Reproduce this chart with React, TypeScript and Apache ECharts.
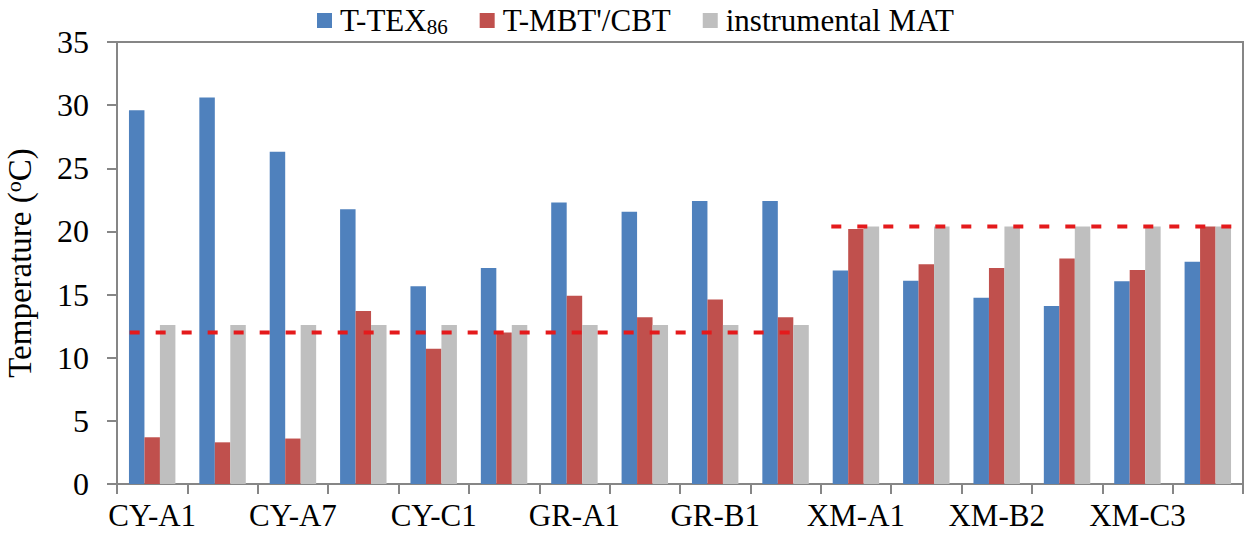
import React, { useEffect, useRef } from "react";
import * as echarts from "echarts";

const categories = [
  "CY-A1", "CY-A4", "CY-A7", "CY-B1", "CY-C1", "CY-C2", "GR-A1", "GR-A2",
  "GR-B1", "GR-B2", "XM-A1", "XM-A2", "XM-B2", "XM-B3", "XM-C3", "XM-C4",
];
const texValues = [29.6, 30.6, 26.3, 21.75, 15.65, 17.1, 22.3, 21.55, 22.4, 22.4, 16.9, 16.1, 14.75, 14.1, 16.05, 17.6];
const mbtValues = [3.7, 3.3, 3.6, 13.7, 10.7, 12.0, 14.9, 13.2, 14.6, 13.2, 20.2, 17.4, 17.1, 17.85, 16.95, 20.4];
const matValues = [12.6, 12.6, 12.6, 12.6, 12.6, 12.6, 12.6, 12.6, 12.6, 12.6, 20.4, 20.4, 20.4, 20.4, 20.4, 20.4];
const yTicks = [0, 5, 10, 15, 20, 25, 30, 35];
// reference (mean) lines: start/end in category units, value in °C
const refLineLow = [0.18, 9.7, 12.0];
const refLineHigh = [10.15, 15.9, 20.4];

const FONT = '"Liberation Serif", "Times New Roman", serif';
const AXIS_COLOR = "#868686";

export default function App() {
  const ref = useRef<HTMLDivElement>(null);
  useEffect(() => {
    const chart = echarts.init(ref.current!, null, { renderer: "svg" });
    chart.setOption({
      animation: false,
      textStyle: { fontFamily: FONT },
      legend: {
        left: 312,
        top: 0,
        itemWidth: 15,
        itemHeight: 15,
        itemGap: 32,
        icon: "rect",
        data: ["T-TEX86", "T-MBT'/CBT", "instrumental MAT"],
        formatter: (name: string) => (name === "T-TEX86" ? "T-TEX{sub|86}" : name),
        textStyle: {
          fontFamily: FONT,
          fontSize: 31,
          color: "#000",
          padding: [0, 0, 0, 3],
          rich: {
            sub: { fontFamily: FONT, fontSize: 21, color: "#000", padding: [12, 0, 0, 0] },
          },
        },
      },
      grid: {
        left: 117,
        right: 2,
        top: 42,
        bottom: 49,
        show: true,
        borderColor: AXIS_COLOR,
        borderWidth: 2,
        containLabel: false,
        outerBoundsMode: "none",
      },
      xAxis: [
        {
          type: "category",
          data: categories,
          axisLine: { lineStyle: { color: AXIS_COLOR, width: 2 } },
          axisTick: { show: true, interval: 0, length: 10, lineStyle: { color: AXIS_COLOR, width: 2 } },
          axisLabel: { interval: 1, margin: 16, fontFamily: FONT, fontSize: 31, lineHeight: 30, color: "#000" },
        },
        { type: "value", min: 0, max: categories.length, show: false },
      ],
      yAxis: {
        type: "value",
        min: yTicks[0],
        max: yTicks[yTicks.length - 1],
        interval: 5,
        name: "Temperature ({sup|o}C)",
        nameLocation: "middle",
        nameGap: 80,
        nameTextStyle: {
          fontFamily: FONT,
          fontSize: 33,
          lineHeight: 34,
          color: "#000",
          rich: { sup: { fontFamily: FONT, fontSize: 22, color: "#000", padding: [0, 0, 14, 0] } },
        },
        splitLine: { show: false },
        axisLine: { show: true, lineStyle: { color: AXIS_COLOR, width: 2 } },
        axisTick: { show: true, length: 10, lineStyle: { color: AXIS_COLOR, width: 2 } },
        axisLabel: { margin: 28, fontFamily: FONT, fontSize: 32, color: "#000" },
      },
      series: [
        { name: "T-TEX86", type: "bar", data: texValues, barGap: "0%", barCategoryGap: "34%", itemStyle: { color: "#4F81BD" } },
        { name: "T-MBT'/CBT", type: "bar", data: mbtValues, itemStyle: { color: "#C0504D" } },
        { name: "instrumental MAT", type: "bar", data: matValues, itemStyle: { color: "#BFBFBF" } },
        {
          type: "line",
          xAxisIndex: 1,
          symbol: "none",
          z: 5,
          data: [[refLineLow[0], refLineLow[2]], [refLineLow[1], refLineLow[2]]],
          lineStyle: { color: "#E41A1C", width: 4, type: [10, 16] },
        },
        {
          type: "line",
          xAxisIndex: 1,
          symbol: "none",
          z: 5,
          data: [[refLineHigh[0], refLineHigh[2]], [refLineHigh[1], refLineHigh[2]]],
          lineStyle: { color: "#E41A1C", width: 4, type: [10, 16] },
        },
      ],
    });
    return () => chart.dispose();
  }, []);
  return (
    <div
      ref={ref}
      style={{ position: "fixed", left: 0, top: 0, width: 1245, height: 533, background: "#fff" }}
    />
  );
}
